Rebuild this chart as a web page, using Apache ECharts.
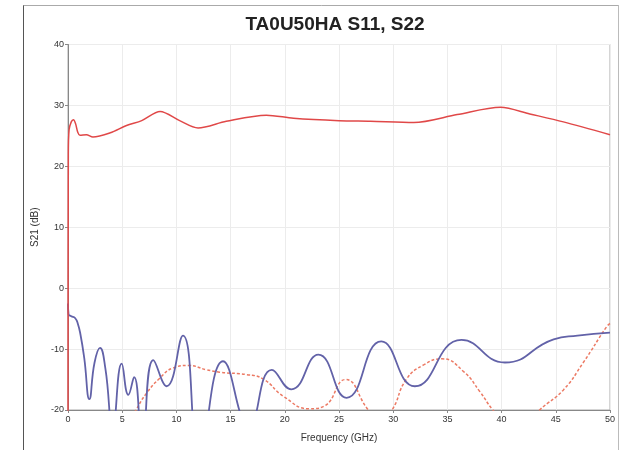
<!DOCTYPE html>
<html>
<head>
<meta charset="utf-8">
<script src="https://cdn.jsdelivr.net/npm/echarts@6/dist/echarts.min.js"></script>
<style>html,body{margin:0;padding:0;background:#fff;}#c{width:622px;height:450px;}</style>
</head>
<body>
<div id="c"></div>
<script>
var titleText = 'TA0U50HA S11, S22';
var xTicks = [0, 5, 10, 15, 20, 25, 30, 35, 40, 45, 50];
var yTicks = [-20, -10, 0, 10, 20, 30, 40];

// S21 (red solid)
var s21Freq = [0, 0.03, 0.1, 0.3, 0.5, 0.7, 0.9, 1.1, 1.7, 2.3, 3.9, 5.4, 6.8, 8.5, 10.3, 12.0, 14.6, 18.3, 20.8, 25, 27.9, 31.9, 35.9, 39.9, 42.6, 45.7, 50];
var s21Val  = [-25, 22, 26, 27.3, 27.65, 27, 25.6, 25.1, 25.2, 24.8, 25.5, 26.7, 27.5, 29.0, 27.5, 26.3, 27.4, 28.4, 27.9, 27.5, 27.4, 27.2, 28.5, 29.7, 28.6, 27.3, 25.2];

// S11 (blue solid)
var s11Freq = [0, 0.05, 0.3, 0.65, 0.9, 1.15, 1.5, 1.97, 2.45, 2.95, 3.45, 4.12, 4.95, 5.57, 6.1, 6.85, 7.87, 9.1, 10.6, 12.15, 14.3, 16.7, 18.8, 20.6, 23.1, 25.7, 28.9, 32.0, 36.3, 40.3, 44.8, 47, 50];
var s11Val  = [-2.5, -4.3, -4.6, -4.9, -5.8, -7.6, -11.5, -18.2, -12.2, -9.8, -13.2, -23, -12.4, -17.5, -14.6, -25, -11.8, -16.1, -7.8, -27, -12.0, -22.5, -13.4, -16.6, -10.9, -18.0, -8.75, -16.1, -8.5, -12.2, -8.4, -7.8, -7.3];

// S22 (red dashed)
var s22Freq = [5.0, 6.27, 7.26, 8.46, 9.7, 11.1, 12.8, 14.0, 16.5, 18.0, 19.9, 22.3, 23.6, 25.6, 27.7, 28.8, 29.9, 31.2, 32.8, 34.5, 36.5, 38.0, 39.2, 41.3, 43.5, 45.7, 47.5, 49.7, 50];
var s22Val  = [-24, -20, -17.2, -14.8, -13.1, -12.7, -13.4, -13.8, -14.2, -14.9, -17.8, -19.8, -19.4, -15.0, -20, -22, -20, -15, -12.6, -11.6, -13.7, -17.0, -20, -24, -20, -16.7, -12.3, -6.3, -5.8];

function pairs(f, v) { return f.map(function (x, i) { return [x, v[i]]; }); }

var chart = echarts.init(document.getElementById('c'), null, {renderer: 'canvas'});
chart.setOption({
  animation: false,
  backgroundColor: '#fff',
  title: {
    text: titleText, left: 330, top: 10, textAlign: 'center',
    textStyle: {fontFamily: 'Liberation Sans', fontWeight: 'bold', fontSize: 19, color: '#222'}
  },
  graphic: [
    {type: 'line', shape: {x1: 23.5, y1: 5, x2: 23.5, y2: 450}, style: {stroke: '#555', lineWidth: 1}},
    {type: 'line', shape: {x1: 23.5, y1: 5.5, x2: 619, y2: 5.5}, style: {stroke: '#aaa', lineWidth: 1}},
    {type: 'line', shape: {x1: 618.5, y1: 5, x2: 618.5, y2: 450}, style: {stroke: '#bbb', lineWidth: 1}}
  ],
  grid: {left: 68, right: 12, top: 44.5, bottom: 40, show: true, borderColor: '#aaa', borderWidth: 1, backgroundColor: 'transparent'},
  xAxis: {
    type: 'value', min: 0, max: 50, interval: 5,
    name: 'Frequency (GHz)', nameLocation: 'middle', nameGap: 23,
    nameTextStyle: {fontFamily: 'Liberation Sans', fontSize: 10, color: '#333'},
    axisLine: {show: true, onZero: false, lineStyle: {color: '#888'}},
    axisTick: {show: true, length: 3, lineStyle: {color: '#888'}},
    axisLabel: {fontFamily: 'Liberation Sans', fontSize: 9, color: '#333', margin: 5,
      formatter: function (v) { return xTicks.indexOf(v) >= 0 ? String(v) : ''; }},
    splitLine: {show: true, lineStyle: {color: '#ececec'}}
  },
  yAxis: {
    type: 'value', min: -20, max: 40, interval: 10,
    name: 'S21 (dB)', nameLocation: 'middle', nameGap: 26,
    nameTextStyle: {fontFamily: 'Liberation Sans', fontSize: 10, color: '#333'},
    axisLine: {show: true, onZero: false, lineStyle: {color: '#888'}},
    axisTick: {show: true, length: 3, lineStyle: {color: '#888'}},
    axisLabel: {fontFamily: 'Liberation Sans', fontSize: 9, color: '#333', margin: 4,
      formatter: function (v) { return yTicks.indexOf(v) >= 0 ? String(v) : ''; }},
    splitLine: {show: true, lineStyle: {color: '#ececec'}}
  },
  series: [
    {name: 'S22', type: 'line', data: pairs(s22Freq, s22Val), showSymbol: false, smooth: 0.5, clip: true,
      lineStyle: {color: '#ec7a64', width: 1.5, type: [3, 2]}},
    {name: 'S11', type: 'line', data: pairs(s11Freq, s11Val), showSymbol: false, smooth: 0.5, clip: true,
      lineStyle: {color: '#6262a8', width: 1.8}},
    {name: 'S21', type: 'line', data: pairs(s21Freq, s21Val), showSymbol: false, smooth: 0.3, clip: true,
      lineStyle: {color: '#e04848', width: 1.5}}
  ]
});
</script>
</body>
</html>
